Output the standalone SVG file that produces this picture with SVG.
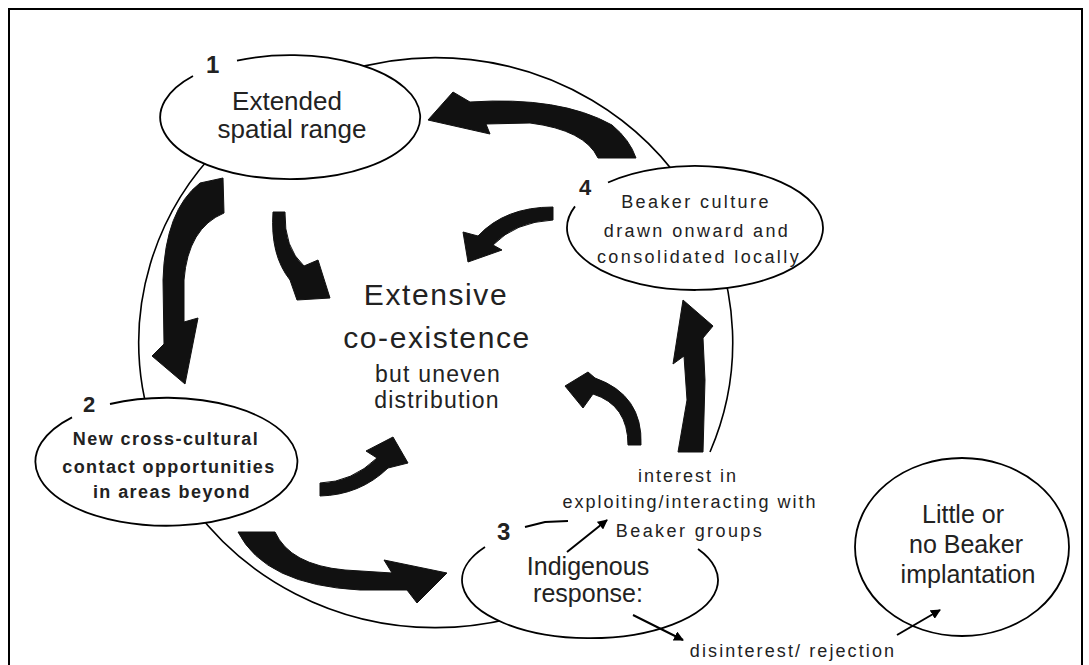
<svg xmlns="http://www.w3.org/2000/svg" width="1089" height="665" viewBox="0 0 1089 665">
<defs>
<style>
.frame{fill:none;stroke:#000;stroke-width:2}
.loop{fill:none;stroke:#000;stroke-width:1.6}
.efill{fill:#fff;stroke:none}
.estroke{fill:none;stroke:#000;stroke-width:1.8}
.big{fill:#111;stroke:#111;stroke-width:1;stroke-linejoin:round}
.thin{fill:none;stroke:#000;stroke-width:2}
text{font-family:"Liberation Sans",Arial,sans-serif;fill:#222;text-anchor:middle}
.num{font-weight:bold;font-size:24px;text-anchor:start}
.t26{font-size:26px}
.t18{font-size:18px;letter-spacing:2.4px}
.t18b{font-size:18px;font-weight:bold;letter-spacing:1.4px}
.t30{font-size:30px;letter-spacing:1.6px}
.t23{font-size:23px;letter-spacing:1.2px}
</style>
<marker id="ah" viewBox="0 0 10 10" refX="9" refY="5" markerWidth="10" markerHeight="10" markerUnits="userSpaceOnUse" orient="auto">
<path d="M0,0 L10,5 L0,10 Z" fill="#000"/>
</marker>
</defs>
<rect width="1089" height="665" fill="#fff"/>
<rect class="frame" x="9" y="9" width="1073" height="700"/>

<path class="loop" d="M710,452 A297,285 0 1,0 560,601.5"/>

<g id="node1">
<ellipse class="efill" cx="291" cy="117" rx="130" ry="62"/>
<path class="estroke" d="M237,60.6 A130,62 0 1,1 193,76"/>
<text class="num" x="206" y="73">1</text>
<text class="t26" x="287" y="110">Extended</text>
<text class="t26" x="292" y="138">spatial range</text>
</g>

<g id="node4">
<ellipse class="efill" cx="695" cy="228" rx="128" ry="62"/>
<path class="estroke" d="M608,182.5 A128,62 0 1,1 575,206.4"/>
<text class="num" x="579" y="195" style="font-size:22px">4</text>
<text class="t18" x="696" y="208">Beaker culture</text>
<text class="t18" x="697" y="237">drawn onward and</text>
<text class="t18" x="699" y="263">consolidated locally</text>
</g>

<g id="node2">
<ellipse class="efill" cx="166" cy="462" rx="131" ry="64"/>
<path class="estroke" d="M110,404 A131,64 0 1,1 72,417.4"/>
<text class="num" x="83" y="412" style="font-size:22px">2</text>
<text class="t18b" x="166" y="445">New cross-cultural</text>
<text class="t18b" x="169" y="473">contact opportunities</text>
<text class="t18b" x="172" y="498">in areas beyond</text>
</g>

<g id="node3">
<ellipse class="efill" cx="590" cy="580" rx="128" ry="58"/>
<path class="estroke" d="M698,549 A128,58 0 1,1 485,547"/>
<text class="num" x="497" y="540">3</text>
<text class="t26" x="588" y="575" style="font-size:25px">Indigenous</text>
<text class="t26" x="588" y="602" style="font-size:25px">response:</text>
</g>

<g id="node3-interest">
<text class="t18" x="688" y="482" style="letter-spacing:2px">interest in</text>
<text class="t18" x="690" y="508" style="letter-spacing:2px">exploiting/interacting with</text>
<text class="t18" x="690" y="537" style="letter-spacing:2.4px">Beaker groups</text>
</g>

<g id="node3-rejection">
<text class="t18" x="793" y="657" style="letter-spacing:2.1px">disinterest/ rejection</text>
</g>

<g id="node5">
<ellipse cx="962" cy="547" rx="107" ry="89" fill="#fff" stroke="#000" stroke-width="1.8"/>
<text class="t26" x="963" y="523" style="font-size:25px">Little or</text>
<text class="t26" x="966" y="553" style="font-size:25px">no Beaker</text>
<text class="t26" x="968" y="583" style="font-size:25px">implantation</text>
</g>

<g id="center">
<text class="t30" x="436" y="305">Extensive</text>
<text class="t30" x="437" y="348">co-existence</text>
<text class="t23" x="438" y="382">but uneven</text>
<text class="t23" x="437" y="408">distribution</text>
</g>

<g id="connectors">
<path class="big" d="M428,120 L453,92 L470,102 Q560,96 612,125 Q630,140 636,158 L598,158 Q585,130 530,123 L486,124 L490,134 Z"/>
<path class="big" d="M200,183 L223,178 L224,213 Q188,228 184,280 L184,322 L198,318 L185,384 L152,356 L164,344 L163,280 Q165,210 200,183 Z"/>
<path class="big" d="M238,532 L275,532 Q290,565 345,570 L392,573 L384,560 L447,573 L417,603 L407,590 L360,590 Q265,585 238,532 Z"/>
<path class="big" d="M678,452 L703,452 L705,380 L703,338 L713,326 L683,300 L673,364 L684,356 L687,400 Z"/>
<path class="big" d="M273,212 L285,212 Q284,248 304,266 L318,260 L330,298 L297,300 L290,280 Q270,255 273,212 Z"/>
<path class="big" d="M553,207 L553,220 Q515,222 493,245 L502,250 L468,262 L463,232 L478,236 Q505,207 553,207 Z"/>
<path class="big" d="M320,483 Q352,482 377,458 L366,451 L393,437 L408,463 L388,468 Q360,495 320,496 Z"/>
<path class="big" d="M628,445 L641,445 Q643,395 595,378 L588,372 L565,386 L583,408 L593,394 Q628,405 628,445 Z"/>
<path class="thin" d="M525,527 L545,522 L568,521"/>
<line class="thin" x1="567" y1="552" x2="607" y2="520" marker-end="url(#ah)"/>
<line class="thin" x1="633" y1="615" x2="683" y2="640" marker-end="url(#ah)"/>
<line class="thin" x1="897" y1="635" x2="940" y2="610" marker-end="url(#ah)"/>
</g>
</svg>
